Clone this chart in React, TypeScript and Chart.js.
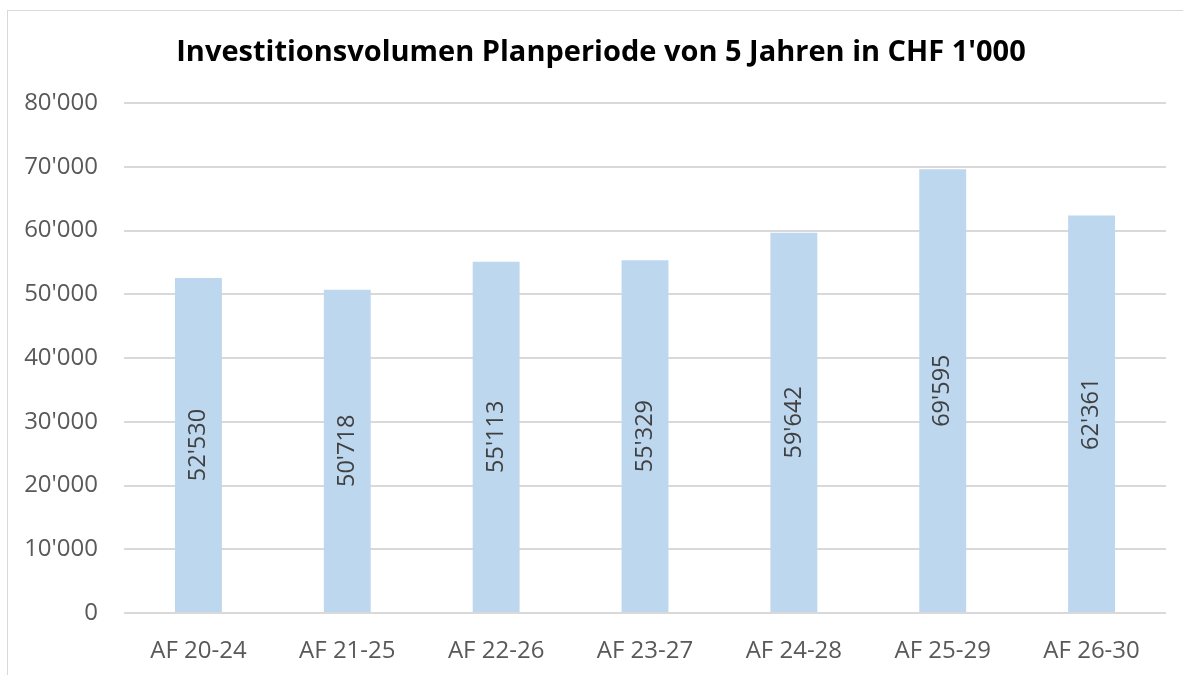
import React, { useEffect, useRef } from "react";
import { Chart, registerables } from "chart.js";

Chart.register(...registerables);

const TITLE = "Investitionsvolumen Planperiode von 5 Jahren in CHF 1'000";
const categories = ["AF 20-24", "AF 21-25", "AF 22-26", "AF 23-27", "AF 24-28", "AF 25-29", "AF 26-30"];
const values = [52530, 50718, 55113, 55329, 59642, 69595, 62361];
const yMin = 0;
const yMax = 80000;
const yStep = 10000;

const FONT = "'Open Sans', 'Noto Sans', sans-serif";

// chart frame (the bordered box), used to center the title in it
const FRAME_LEFT = 7;
const FRAME_RIGHT = 1195;
const TITLE_BASELINE = 61;

function fmt(n: number): string {
  const s = Math.round(n).toString();
  return s.replace(/\B(?=(\d{3})+(?!\d))/g, "'");
}

const titlePlugin = {
  id: "frameTitle",
  afterDraw(chart: any) {
    const ctx = chart.ctx;
    ctx.save();
    ctx.fillStyle = "#000000";
    ctx.font = `bold 29px ${FONT}`;
    ctx.textAlign = "center";
    ctx.textBaseline = "alphabetic";
    ctx.fillText(TITLE, (FRAME_LEFT + FRAME_RIGHT) / 2, TITLE_BASELINE);
    ctx.restore();
  },
};

const barLabelPlugin = {
  id: "barLabels",
  afterDatasetsDraw(chart: any) {
    const ctx = chart.ctx;
    const meta = chart.getDatasetMeta(0);
    ctx.save();
    ctx.fillStyle = "#404040";
    ctx.font = `23.5px ${FONT}`;
    ctx.textAlign = "center";
    ctx.textBaseline = "middle";
    meta.data.forEach((bar: any, i: number) => {
      const cy = (bar.y + bar.base) / 2;
      ctx.save();
      ctx.translate(bar.x, cy);
      ctx.rotate(-Math.PI / 2);
      ctx.fillText(fmt(values[i]), 0, 0);
      ctx.restore();
    });
    ctx.restore();
  },
};

export default function App() {
  const ref = useRef<HTMLCanvasElement | null>(null);

  useEffect(() => {
    if (!ref.current) return;
    const chart = new Chart(ref.current, {
      type: "bar",
      data: {
        labels: categories,
        datasets: [
          {
            data: values,
            backgroundColor: "#BDD7EE",
            borderWidth: 0,
            barPercentage: 1,
            categoryPercentage: 0.315,
          },
        ],
      },
      options: {
        animation: false,
        responsive: false,
        maintainAspectRatio: false,
        layout: { padding: { left: 0, right: 17, top: 103, bottom: 0 } },
        plugins: {
          legend: { display: false },
          tooltip: { enabled: false },
          title: { display: false },
        },
        scales: {
          x: {
            grid: { display: false, drawTicks: false },
            border: { display: false },
            ticks: {
              color: "#595959",
              font: { family: FONT, size: 24 },
              padding: 24,
              maxRotation: 0,
              autoSkip: false,
            },
            afterFit: (s: any) => {
              s.height = 62;
            },
          },
          y: {
            min: yMin,
            max: yMax,
            grid: { color: "#d9d9d9", lineWidth: 2, drawTicks: false },
            border: { display: false },
            ticks: {
              stepSize: yStep,
              color: "#595959",
              font: { family: FONT, size: 24 },
              padding: 26,
              callback: (v: any) => fmt(Number(v)),
            },
            afterFit: (s: any) => {
              s.width = 124;
            },
          },
        },
      },
      plugins: [barLabelPlugin, titlePlugin],
    });
    return () => chart.destroy();
  }, []);

  return (
    <div style={{ position: "fixed", left: 0, top: 0, width: 1183, height: 675, background: "#fff", overflow: "hidden" }}>
      <div
        style={{
          position: "absolute",
          left: 7,
          top: 10,
          width: 1200,
          height: 700,
          border: "1px solid #d9d9d9",
          boxSizing: "border-box",
        }}
      />
      <canvas ref={ref} width={1183} height={675} style={{ position: "absolute", left: 0, top: 0, width: 1183, height: 675 }} />
    </div>
  );
}
